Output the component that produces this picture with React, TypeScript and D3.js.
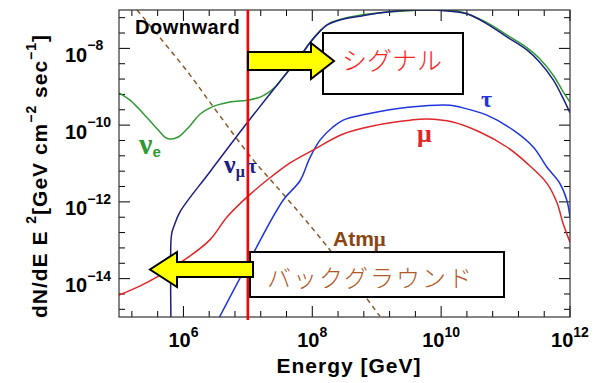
import React from "react";
import * as d3 from "d3";

// curves as [log10 E(GeV), log10 flux]
const nuE = [
  [5.0, -9.16], [5.17, -9.35], [5.4, -9.74], [5.61, -10.13], [5.71, -10.31],
  [5.79, -10.36], [5.92, -10.31], [6.1, -10.02], [6.26, -9.71], [6.44, -9.53],
  [6.72, -9.4], [6.99, -9.35], [7.19, -9.27], [7.31, -9.16], [7.44, -8.98],
  [7.55, -8.75], [7.81, -8.2], [7.96, -7.86], [8.12, -7.55], [8.27, -7.34],
  [8.51, -7.21], [8.9, -7.1], [9.36, -7.03], [9.83, -7.0], [10.29, -7.04],
  [10.71, -7.33], [11.02, -7.65], [11.33, -7.98], [11.53, -8.27], [11.74, -8.7],
  [11.89, -9.12], [12.0, -9.4],
];
const nuMuTau = [
  [5.807, -15.2], [5.807, -13.0], [5.823, -12.78], [5.854, -12.63], [5.947, -12.26],
  [6.41, -11.22], [6.99, -9.94], [7.55, -8.75], [7.81, -8.22], [7.96, -7.86],
  [8.12, -7.55], [8.23, -7.39], [8.43, -7.26], [8.74, -7.16], [9.16, -7.05],
  [9.67, -7.0], [10.14, -7.03], [10.4, -7.1], [10.71, -7.36], [11.02, -7.7],
  [11.33, -8.04], [11.53, -8.36], [11.74, -8.82], [11.89, -9.29], [12.0, -9.68],
];
const tau = [
  [6.52, -15.13], [7.03, -13.51], [7.55, -11.95], [7.81, -11.45], [7.96, -10.86],
  [8.12, -10.39], [8.32, -10.05], [8.48, -9.87], [8.85, -9.71], [9.52, -9.53],
  [10.14, -9.48], [10.29, -9.53], [10.71, -9.74], [11.12, -10.13], [11.43, -10.57],
  [11.64, -11.09], [11.84, -11.51], [11.95, -11.95], [12.0, -12.39],
];
const mu = [
  [5.0, -14.43], [5.33, -14.19], [5.64, -13.91], [6.06, -13.46], [6.41, -12.99],
  [6.68, -12.39], [6.99, -11.87], [7.3, -11.43], [7.65, -10.99], [8.01, -10.65],
  [8.48, -10.23], [9.0, -10.0], [9.52, -9.87], [9.78, -9.84], [10.18, -9.92],
  [10.6, -10.18], [11.02, -10.57], [11.33, -10.99], [11.64, -11.51], [11.8, -12.03],
  [11.89, -12.55], [12.0, -13.05],
];
const atmMu = [
  [5.28, -7.0], [6.06, -8.6], [6.41, -9.4], [7.08, -10.9], [7.55, -11.8],
  [8.23, -13.16], [9.05, -14.98],
];

const xTickExps = [6, 8, 10, 12];
const yTickExps = [-8, -10, -12, -14];
const cutEnergy = 1e7;

const W = 602;
const H = 383;
const L = 119, R = 570, T = 10, B = 317;

export default function App() {
  const x = d3.scaleLog().domain([1e5, 1e12]).range([L, R]);
  const y = d3.scaleLog().domain([1e-15, 1e-7]).range([B, T]);
  const line = d3
    .line<number[]>()
    .x((d) => x(10 ** d[0]))
    .y((d) => y(10 ** d[1]))
    .curve(d3.curveCatmullRom.alpha(0.5));

  const xMinor = d3.range(5.2, 12, 0.4).filter((v) => Math.abs(Math.round(v) - v) > 0.05 || Math.round(v) % 2 === 1);
  const yMinor = d3.range(-7.2, -15, -0.4).filter((v) => Math.abs(Math.round(v) - v) > 0.05 || Math.round(v) % 2 !== 0);

  const sans = "'Liberation Sans', Arial, sans-serif";
  const serif = "'Liberation Serif', 'Times New Roman', serif";
  const jp = "'Noto Sans CJK JP', sans-serif";

  return (
    <svg width={W} height={H} style={{ position: "absolute", left: 0, top: 0, background: "#fff" }}>
      <defs>
        <clipPath id="plot">
          <rect x={L} y={T} width={R - L} height={B - T} />
        </clipPath>
      </defs>

      {/* ticks */}
      <g stroke="#000" strokeWidth={1}>
        {xTickExps.map((e) => (
          <g key={"xM" + e}>
            <line x1={x(10 ** e)} x2={x(10 ** e)} y1={B} y2={B - 11} />
            <line x1={x(10 ** e)} x2={x(10 ** e)} y1={T} y2={T + 11} />
          </g>
        ))}
        {xMinor.map((e) => (
          <g key={"xm" + e}>
            <line x1={x(10 ** e)} x2={x(10 ** e)} y1={B} y2={B - 6} />
            <line x1={x(10 ** e)} x2={x(10 ** e)} y1={T} y2={T + 6} />
          </g>
        ))}
        {yTickExps.map((e) => (
          <g key={"yM" + e}>
            <line x1={L} x2={L + 11} y1={y(10 ** e)} y2={y(10 ** e)} />
            <line x1={R} x2={R - 11} y1={y(10 ** e)} y2={y(10 ** e)} />
          </g>
        ))}
        {yMinor.map((e) => (
          <g key={"ym" + e}>
            <line x1={L} x2={L + 6} y1={y(10 ** e)} y2={y(10 ** e)} />
            <line x1={R} x2={R - 6} y1={y(10 ** e)} y2={y(10 ** e)} />
          </g>
        ))}
      </g>

      {/* curves */}
      <g clipPath="url(#plot)" fill="none" strokeWidth={1.5}>
        <path d={line(atmMu) || ""} stroke="#8b5a2b" strokeDasharray="5,4" />
        <path d={line(nuE) || ""} stroke="#2f9a35" />
        <path d={line(nuMuTau) || ""} stroke="#1c1f80" />
        <path d={line(tau) || ""} stroke="#2035dc" />
        <path d={line(mu) || ""} stroke="#e0262a" />
      </g>

      <rect x={L} y={T} width={R - L} height={B - T} fill="none" stroke="#333" strokeWidth={1.2} />

      <line x1={x(cutEnergy)} x2={x(cutEnergy)} y1={T} y2={B + 3} stroke="#ff0000" strokeWidth={2.6} />

      {/* tick labels */}
      <g fontFamily={sans} fontWeight="bold" fill="#000">
        {xTickExps.map((e) => (
          <text key={"xl" + e} x={x(10 ** e)} y={347} textAnchor="middle" fontSize={20}>
            10<tspan dy={-10} fontSize={14}>{e}</tspan>
          </text>
        ))}
        {yTickExps.map((e) => (
          <text key={"yl" + e} x={65} y={y(10 ** e) + 13.5} fontSize={20}>
            10<tspan dy={-11.5} fontSize={14}>{"\u2212" + Math.abs(e)}</tspan>
          </text>
        ))}
        <text x={349} y={373} textAnchor="middle" fontSize={21} letterSpacing={1}>
          Energy [GeV]
        </text>
        <text transform="translate(47,176) rotate(-90)" textAnchor="middle" fontSize={21} letterSpacing={1}>
          dN/dE E <tspan dy={-11} fontSize={14}>2</tspan>
          <tspan dy={11}>[GeV cm</tspan>
          <tspan dy={-11} fontSize={14}>{"\u22122"}</tspan>
          <tspan dy={11}> sec</tspan>
          <tspan dy={-11} fontSize={14}>{"\u22121"}</tspan>
          <tspan dy={11}>]</tspan>
        </text>
        <text x={135} y={34} fontSize={20} letterSpacing={0.5}>Downward</text>
        <text x={333} y={246} fontSize={21} fill="#8b4513">
          Atm<tspan fontFamily={serif}>μ</tspan>
        </text>
      </g>

      {/* curve labels */}
      <g fontFamily={serif} fontWeight="bold">
        <text x={139} y={154} fontSize={30} fill="#2f9a35">
          ν<tspan fontFamily={sans} fontSize={15} dy={3}>e</tspan>
        </text>
        <text x={224} y={173} fontSize={26} fill="#1c1f80">
          ν<tspan fontSize={16} dy={4}>μ</tspan>
          <tspan fontSize={20} dy={-4} dx={3}>τ</tspan>
        </text>
        <text x={481} y={107} fontSize={24} fill="#2035dc">τ</text>
        <text x={417} y={142} fontSize={26} fill="#e0262a">μ</text>
      </g>

      {/* annotations */}
      <rect x={323} y={33} width={140} height={61} fill="#fff" stroke="#000" strokeWidth={2} />
      <text x={342} y={70} fontFamily={jp} fontWeight={300} fontSize={25} fill="#ff2020">
        シグナル
      </text>
      <polygon
        points="248,52 311,52 311,43 334,61 311,79 311,70 248,70"
        fill="#ffff00"
        stroke="#000"
        strokeWidth={2}
      />
      <rect x={250} y={252} width={254} height={45} fill="#fff" stroke="#000" strokeWidth={2} />
      <text x={267} y={287} fontFamily={jp} fontWeight={300} fontSize={24} letterSpacing={2} fill="#b05a2a">
        バックグラウンド
      </text>
      <polygon
        points="253,262 177,262 177,252 150,269.5 177,287 177,277 253,277"
        fill="#ffff00"
        stroke="#000"
        strokeWidth={2}
      />
    </svg>
  );
}
